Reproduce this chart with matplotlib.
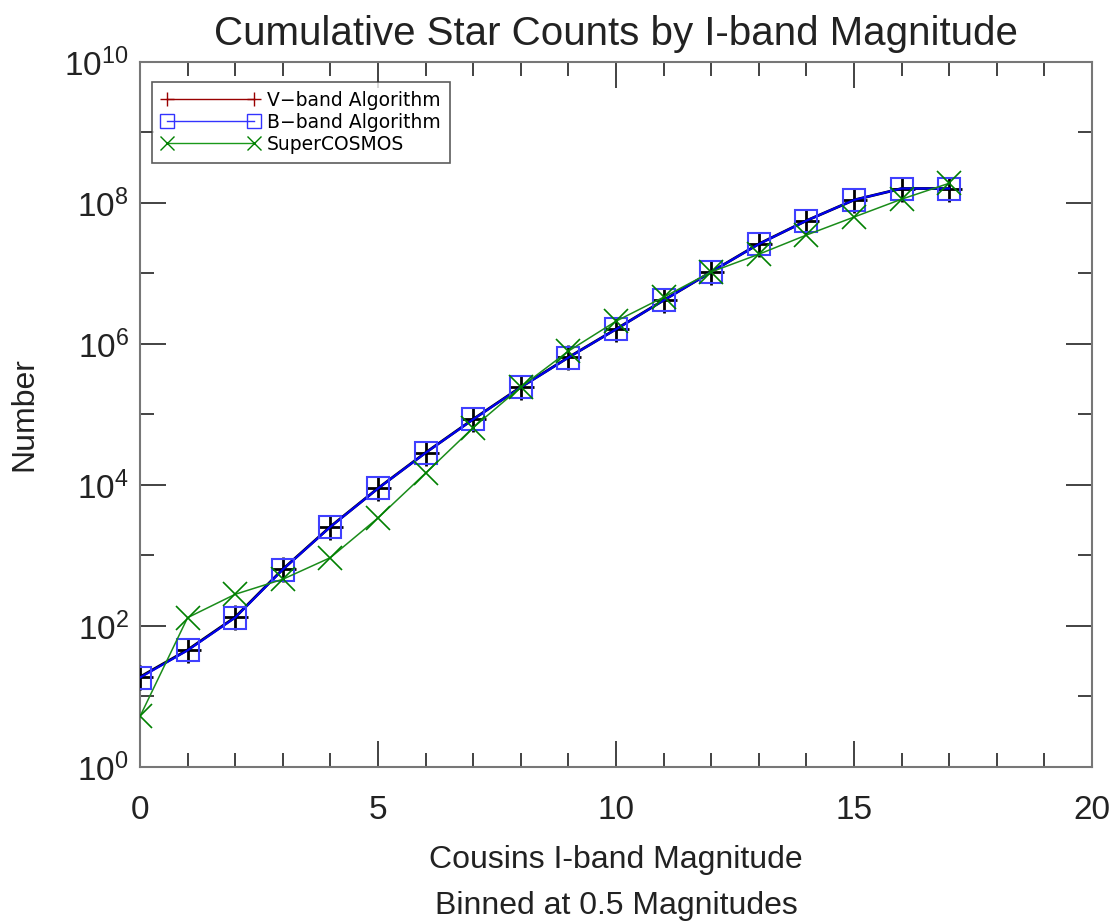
import matplotlib
matplotlib.use("Agg")
import matplotlib.pyplot as plt
from matplotlib.lines import Line2D
from matplotlib.ticker import FixedLocator, MultipleLocator, LogFormatterSciNotation, NullFormatter
import numpy as np

plt.rcParams['font.family'] = ['Liberation Sans', 'DejaVu Sans']
plt.rcParams['mathtext.default'] = 'regular'

magnitude = [0, 1, 2, 3, 4, 5, 6, 7, 8, 9, 10, 11, 12, 13, 14, 15, 16, 17]
vband = [18.9, 45.7, 133, 637, 2560, 8960, 28700, 85600, 2.44e5, 6.44e5,
         1.62e6, 4.16e6, 1.05e7, 2.62e7, 5.6e7, 1.1e8, 1.6e8, 1.6e8]
bband = [18.5, 45.0, 131, 630, 2540, 8900, 28500, 85000, 2.42e5, 6.4e5,
         1.61e6, 4.14e6, 1.05e7, 2.6e7, 5.6e7, 1.1e8, 1.6e8, 1.6e8]
supercosmos = [5.2, 131, 281, 459, 930, 3400, 14700, 65000, 2.44e5, 7.9e5,
               2.1e6, 4.6e6, 1.05e7, 1.87e7, 3.5e7, 6.3e7, 1.13e8, 1.9e8]

fig = plt.figure(figsize=(11.2, 9.24), dpi=100)
ax = fig.add_axes([0.125, 0.170, 0.850, 0.763])

ax.plot(magnitude, vband, color='black', lw=2.0, marker='+', ms=18, mew=2.0, zorder=3)
ax.plot(magnitude, bband, color='#0000ee', lw=1.6, marker='s', ms=16.5, mew=1.5,
        mfc='none', mec=(0.25, 0.25, 1.0), zorder=4)
ax.plot(magnitude, supercosmos, color=(0.1, 0.55, 0.1), lw=1.1, marker='x', ms=17, mew=1.2,
        mec=(0.0, 0.5, 0.0), zorder=5)

ax.set_yscale('log')
ax.set_xlim(0, 20)
ax.set_ylim(1, 1e10)

ax.yaxis.set_major_locator(FixedLocator([10.0**k for k in range(0, 11, 2)]))
ax.yaxis.set_minor_locator(FixedLocator([10.0**k for k in range(1, 10, 2)]))
ax.yaxis.set_major_formatter(LogFormatterSciNotation())
ax.yaxis.set_minor_formatter(NullFormatter())
ax.xaxis.set_major_locator(MultipleLocator(5))
ax.xaxis.set_minor_locator(MultipleLocator(1))

ax.tick_params(which='both', direction='in', top=True, right=True, colors='#222222',
               labelcolor='#222222', labelsize=24)
ax.tick_params(which='major', length=19, width=1.2)
ax.tick_params(which='minor', length=10, width=1.2)
ax.tick_params(axis='x', which='major', pad=20)
ax.tick_params(axis='y', which='major', pad=8)
for s in ax.spines.values():
    s.set_color('#777777')
    s.set_linewidth(1.5)

ax.set_title('Cumulative Star Counts by I-band Magnitude', fontsize=29, color='#222222', pad=12)
ax.set_xlabel('Cousins I-band Magnitude\nBinned at 0.5 Magnitudes', fontsize=23,
              color='#222222', labelpad=14, linespacing=1.7)
ax.set_ylabel('Number', fontsize=23, color='#222222', labelpad=18)

handles = [
    Line2D([0], [0], color=(0.6, 0.0, 0.0), lw=1.0, marker='+', ms=10, mew=1.0),
    Line2D([0], [0], color=(0.2, 0.2, 1.0), lw=1.0, marker='s', ms=10, mew=1.0, mfc='none'),
    Line2D([0], [0], color=(0.1, 0.6, 0.1), lw=1.0, marker='x', ms=10, mew=1.0,
           mec=(0.0, 0.5, 0.0)),
]
leg = ax.legend(handles, ['V\u2212band Algorithm', 'B\u2212band Algorithm', 'SuperCOSMOS'],
                loc='upper left', bbox_to_anchor=(0.013, 0.972), numpoints=2,
                handlelength=5.2, prop={'family': 'DejaVu Sans', 'size': 13.5},
                frameon=True, fancybox=False, borderpad=0.5, labelspacing=0.15,
                handletextpad=0.4, borderaxespad=0)
leg.get_frame().set_edgecolor('#333333')
leg.get_frame().set_linewidth(1.2)

fig.savefig('out.png', dpi=100)
